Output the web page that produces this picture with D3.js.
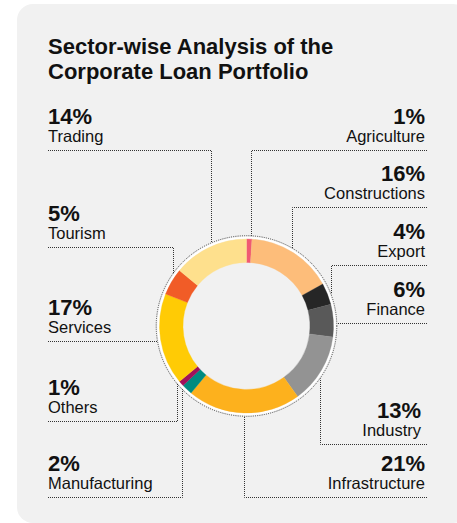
<!DOCTYPE html>
<html>
<head>
<meta charset="utf-8">
<script src="https://cdn.jsdelivr.net/npm/d3@7"></script>
<style>
  html, body { margin: 0; padding: 0; background: #ffffff; }
  svg { display: block; }
  text { font-family: "Liberation Sans", Arial, Helvetica, sans-serif; fill: #111; }
</style>
</head>
<body>
<svg id="chart" width="457" height="523"></svg>
<script>
// ---------- data ----------
const sectors = ["Agriculture", "Constructions", "Export", "Finance", "Industry",
  "Infrastructure", "Manufacturing", "Others", "Services", "Tourism", "Trading"];
const shares = [1, 16, 4, 6, 13, 21, 2, 1, 17, 5, 14];
const colors = ["#f05a72", "#fdbd7a", "#262626", "#595959", "#939393",
  "#fdb11d", "#008b80", "#a0115a", "#ffcb05", "#f15c27", "#fee08d"];
const titleLines = ["Sector-wise Analysis of the", "Corporate Loan Portfolio"];

// ---------- layout ----------
const cx = 246.5, cy = 326, rOuter = 87, rInner = 63.5, rDots = 90.3;
const leftX = 48, rightX = 427;
// label placement: side, y of the dotted leader, x of the vertical drop (null = horizontal leader)
const labelLayout = {
  "Trading":        { side: "L", y: 150, dropX: 211 },
  "Tourism":        { side: "L", y: 247, dropX: 173 },
  "Services":       { side: "L", y: 341, dropX: null },
  "Others":         { side: "L", y: 421, dropX: 177 },
  "Manufacturing":  { side: "L", y: 497, dropX: 182 },
  "Agriculture":    { side: "R", y: 150, dropX: 251 },
  "Constructions":  { side: "R", y: 207, dropX: 292 },
  "Export":         { side: "R", y: 265, dropX: 331 },
  "Finance":        { side: "R", y: 323, dropX: null },
  "Industry":       { side: "R", y: 444, dropX: 320, textX: 421 },
  "Infrastructure": { side: "R", y: 497, dropX: 244 }
};

const svg = d3.select("#chart");

// card
svg.append("rect").attr("x", 17).attr("y", 4).attr("width", 452).attr("height", 519)
  .attr("rx", 16).attr("fill", "#f1f1f1");

// title
svg.append("text").attr("x", 48).attr("y", 54)
  .style("font-size", "22px").style("font-weight", "bold")
  .selectAll("tspan").data(titleLines).join("tspan")
  .attr("x", 48).attr("dy", (d, i) => i === 0 ? 0 : 25).text(d => d);

// donut
const data = sectors.map((s, i) => ({ sector: s, value: shares[i], color: colors[i] }));
const pie = d3.pie().value(d => d.value).sort(null);
const arcs = pie(data);
const arc = d3.arc().innerRadius(rInner).outerRadius(rOuter);

const g = svg.append("g").attr("transform", `translate(${cx},${cy})`);

g.append("circle").attr("r", rDots).attr("fill", "none")
  .attr("stroke", "#333").attr("stroke-width", 0.9).attr("stroke-dasharray", "1,1.2");
g.append("circle").attr("r", rOuter + 1.2).attr("fill", "none")
  .attr("stroke", "#ffffff").attr("stroke-width", 2);

g.selectAll("path.slice").data(arcs).join("path")
  .attr("class", "slice")
  .attr("d", arc)
  .attr("fill", d => d.data.color)
  .attr("stroke", d => d.data.color).attr("stroke-width", 0.3);

// leaders + labels
const leaders = svg.append("g");
const labels = svg.append("g");
arcs.forEach(a => {
  const L = labelLayout[a.data.sector];
  const mid = (a.startAngle + a.endAngle) / 2;
  let px, py;
  if (L.dropX != null) {
    px = L.dropX;
    const dy = Math.sqrt(Math.max(0, rDots * rDots - (px - cx) * (px - cx)));
    py = Math.cos(mid) >= 0 ? cy - dy : cy + dy;
  } else {
    const dy = L.y - cy;
    const dx = Math.sqrt(Math.max(0, rDots * rDots - dy * dy));
    px = L.side === "L" ? cx - dx : cx + dx;
    py = L.y;
  }
  px = Math.round(px) + 0.5;
  const ly = L.y + 0.5;
  const startX = L.side === "L" ? leftX : rightX;
  const path = d3.path();
  path.moveTo(startX, ly);
  path.lineTo(px, ly);
  if (L.dropX != null) path.lineTo(px, py);
  leaders.append("path").attr("d", path.toString())
    .attr("fill", "none").attr("stroke", "#333").attr("stroke-width", 1)
    .attr("stroke-dasharray", "1,1");

  const tx = L.side === "L" ? leftX : (L.textX || 425);
  const anchor = L.side === "L" ? "start" : "end";
  labels.append("text").attr("x", tx).attr("y", L.y - 26.5)
    .attr("text-anchor", anchor)
    .style("font-size", "22px").style("font-weight", "bold")
    .text(a.data.value + "%");
  labels.append("text").attr("x", tx).attr("y", L.y - 8)
    .attr("text-anchor", anchor)
    .style("font-size", "16.5px")
    .text(a.data.sector);
});
</script>
</body>
</html>
